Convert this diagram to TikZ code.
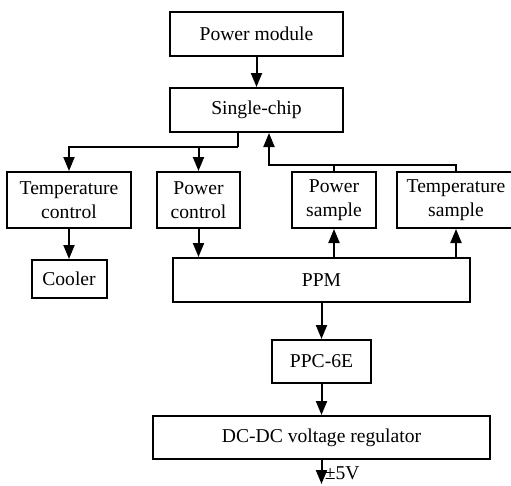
\documentclass[tikz,border=0pt]{standalone}
\usepackage{fontspec}
\setmainfont{Liberation Serif}
\usepackage{tikz}
\usetikzlibrary{arrows.meta,positioning,calc}

\begin{document}
\begin{tikzpicture}[x=1pt, y=-1pt, node distance=30pt and 24pt,
  blk/.style={rectangle, draw=black, line width=2pt, align=center,
              inner sep=2pt, font=\fontsize{19.6}{23.5}\selectfont},
  arr/.style={-{Triangle[length=14pt,width=11pt]}, line width=2pt},
  wire/.style={line width=2pt}]

  \useasboundingbox (0,0) rectangle (511,485);

  \node[blk, minimum width=173pt, minimum height=44pt] (pm) at (256.5,34) {Power module};
  \node[blk, minimum width=173pt, minimum height=44pt, below=30pt of pm] (sc) {Single-chip};

  \node[blk, minimum width=124pt, minimum height=56pt] (tc) at (69,200) {Temperature\\control};
  \node[blk, minimum width=83pt, minimum height=56pt, right=24pt of tc] (pc) {Power\\control};
  \node[blk, minimum width=84pt, minimum height=56pt, right=50pt of pc] (ps) {Power\\sample};
  \node[blk, minimum width=118pt, minimum height=56pt, right=19pt of ps] (ts) {Temperature\\sample};
  \node[blk, minimum width=75pt, minimum height=38pt, below=30pt of tc] (cool) {Cooler};

  \node[blk, minimum width=297pt, minimum height=44pt] (ppm) at (321.5,280) {PPM};
  \node[blk, minimum width=99pt, minimum height=43pt, below=36pt of ppm] (ppc) {PPC-6E};
  \node[blk, minimum width=337pt, minimum height=43pt, below=31pt of ppc] (dc) {DC-DC voltage regulator};
  \coordinate (out) at (dc.south |- 0,484);

  % control path
  \draw[arr] (pm) -- (sc);
  \coordinate (bus) at ($(sc.south)+(-18.5,14)$);
  \draw[wire] ([xshift=-18.5pt]sc.south) -- (bus);
  \draw[arr] (bus) -| (tc.north);
  \draw[arr] (bus -| pc.north) -- (pc.north);
  \draw[arr] (tc) -- (cool);
  \draw[arr] (pc.south) -- (pc.south |- ppm.north);

  % sample feedback
  \coordinate (fb) at ($(sc.south)+(12.5,32)$);
  \draw[arr] (ts.north) |- (fb) -- (fb |- sc.south);
  \draw[wire] (ps.north) -- (ps.north |- fb);
  \draw[arr] (ppm.north -| ps.south) -- (ps.south);
  \draw[arr] (ppm.north -| ts.south) -- (ts.south);

  % supply chain
  \draw[arr] (ppm) -- (ppc);
  \draw[arr] (ppc) -- (dc);
  \draw[arr] (dc.south) -- (out) node[right=-1pt, yshift=11pt, font=\fontsize{19.6}{23.5}\selectfont] {±5V};

\end{tikzpicture}
\end{document}
